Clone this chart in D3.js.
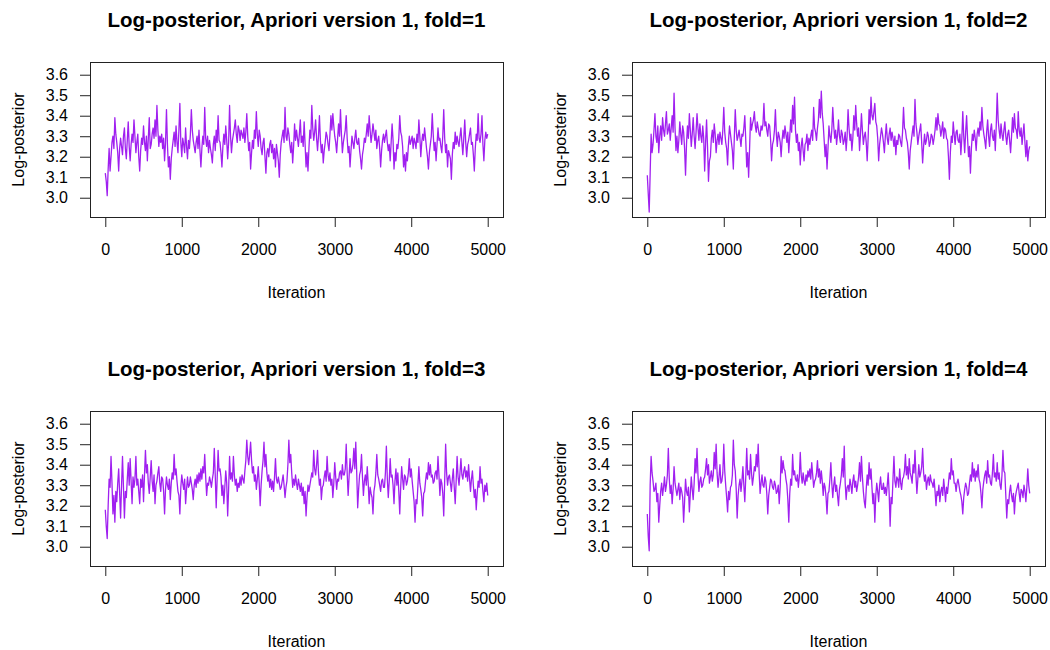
<!DOCTYPE html>
<html>
<head>
<meta charset="utf-8">
<script src="https://cdn.jsdelivr.net/npm/d3@7"></script>
<style>
  body { margin: 0; background: #fff; }
  svg { display: block; font-family: "Liberation Sans", Arial, sans-serif; }
</style>
</head>
<body>
<svg width="1050" height="650"></svg>
<script>
// trace values, one every 12.5 iterations
const iterStep = 12.5;

const fold1 = [
  3.12,3.08, 3.01,3.14, 3.24,3.13, 3.20,3.27, 3.30,3.24, 3.39,3.31, 3.27,3.22, 3.13,3.24, 3.29,3.25, 3.21,3.30,
  3.34,3.24, 3.19,3.28, 3.37,3.25, 3.18,3.26, 3.31,3.27, 3.38,3.30, 3.22,3.27, 3.31,3.20, 3.13,3.23, 3.29,3.26,
  3.35,3.27, 3.23,3.30, 3.18,3.29, 3.39,3.24, 3.26,3.31, 3.34,3.29, 3.38,3.30, 3.45,3.33, 3.25,3.30, 3.27,3.31,
  3.24,3.29, 3.18,3.27, 3.43,3.26, 3.15,3.20, 3.09,3.19, 3.24,3.28, 3.32,3.25, 3.35,3.27, 3.22,3.33, 3.46,3.27,
  3.20,3.29, 3.26,3.22, 3.34,3.25, 3.19,3.28, 3.24,3.31, 3.43,3.33, 3.28,3.25, 3.22,3.27, 3.30,3.24, 3.33,3.23,
  3.15,3.24, 3.30,3.26, 3.44,3.29, 3.25,3.30, 3.22,3.28, 3.24,3.21, 3.17,3.26, 3.30,3.23, 3.33,3.27, 3.40,3.28,
  3.27,3.22, 3.15,3.25, 3.31,3.26, 3.35,3.28, 3.19,3.27, 3.45,3.30, 3.22,3.28, 3.31,3.34, 3.38,3.31, 3.27,3.35,
  3.33,3.28, 3.33,3.31, 3.29,3.34, 3.27,3.32, 3.41,3.30, 3.23,3.27, 3.14,3.22, 3.28,3.24, 3.33,3.29, 3.42,3.31,
  3.25,3.33, 3.30,3.24, 3.21,3.27, 3.29,3.20, 3.12,3.22, 3.24,3.20, 3.26,3.28, 3.22,3.26, 3.19,3.24, 3.15,3.26,
  3.22,3.18, 3.10,3.21, 3.27,3.30, 3.33,3.27, 3.44,3.30, 3.28,3.34, 3.31,3.26, 3.22,3.27, 3.17,3.25, 3.36,3.28,
  3.33,3.29, 3.25,3.31, 3.38,3.27, 3.30,3.25, 3.37,3.26, 3.15,3.22, 3.13,3.24, 3.33,3.29, 3.45,3.34, 3.28,3.32, 3.38,3.29,
  3.23,3.30, 3.40,3.28, 3.22,3.26, 3.17,3.23, 3.27,3.32, 3.30,3.26, 3.23,3.31, 3.40,3.33, 3.41,3.35, 3.30,3.27,
  3.22,3.29, 3.36,3.30, 3.43,3.31, 3.22,3.27, 3.30,3.33, 3.40,3.29, 3.22,3.25, 3.15,3.23, 3.30,3.27, 3.24,3.29,
  3.33,3.27, 3.26,3.29, 3.23,3.19, 3.14,3.21, 3.24,3.29, 3.27,3.31, 3.36,3.30, 3.40,3.33, 3.27,3.31, 3.36,3.32,
  3.28,3.33, 3.24,3.28, 3.30,3.24, 3.15,3.23, 3.28,3.31, 3.27,3.30, 3.33,3.27, 3.23,3.26, 3.18,3.27, 3.36,3.28,
  3.14,3.22, 3.18,3.26, 3.24,3.29, 3.40,3.32, 3.30,3.25, 3.15,3.21, 3.13,3.22, 3.18,3.25, 3.30,3.26, 3.28,3.30,
  3.24,3.29, 3.27,3.24, 3.31,3.27, 3.38,3.30, 3.20,3.27, 3.31,3.28, 3.34,3.29, 3.24,3.20, 3.14,3.22, 3.26,3.30,
  3.41,3.31, 3.23,3.27, 3.18,3.26, 3.34,3.28, 3.29,3.25, 3.22,3.30, 3.43,3.29, 3.22,3.26, 3.15,3.23, 3.21,3.19,
  3.09,3.21, 3.27,3.24, 3.32,3.26, 3.30,3.27, 3.25,3.30, 3.34,3.27, 3.21,3.29, 3.38,3.27, 3.20,3.26, 3.28,3.31,
  3.34,3.26, 3.27,3.21, 3.13,3.24, 3.31,3.28, 3.41,3.29, 3.27,3.31, 3.40,3.26, 3.18,3.28, 3.32,3.29, 3.31
];

const fold2 = [
  3.11,3.02, 2.93,3.12, 3.31,3.22, 3.26,3.33, 3.41,3.30, 3.27,3.35, 3.22,3.30, 3.35,3.28, 3.39,3.33, 3.30,3.36,
  3.42,3.31, 3.33,3.36, 3.28,3.34, 3.40,3.32, 3.51,3.34, 3.23,3.30, 3.22,3.28, 3.37,3.31, 3.26,3.35, 3.32,3.24,
  3.11,3.26, 3.35,3.29, 3.41,3.33, 3.25,3.31, 3.39,3.30, 3.24,3.32, 3.41,3.34, 3.28,3.36, 3.30,3.27, 3.35,3.29,
  3.13,3.27, 3.38,3.25, 3.08,3.18, 3.20,3.29, 3.33,3.27, 3.36,3.31, 3.22,3.28, 3.31,3.26, 3.32,3.29, 3.26,3.33,
  3.44,3.32, 3.27,3.24, 3.16,3.28, 3.35,3.31, 3.27,3.23, 3.14,3.29, 3.43,3.33, 3.28,3.30, 3.33,3.29, 3.25,3.31,
  3.30,3.34, 3.40,3.28, 3.15,3.22, 3.10,3.24, 3.39,3.33, 3.36,3.38, 3.42,3.35, 3.32,3.37, 3.34,3.31, 3.30,3.35,
  3.33,3.36, 3.46,3.35, 3.37,3.33, 3.30,3.36, 3.35,3.28, 3.18,3.26, 3.28,3.33, 3.43,3.31, 3.25,3.32, 3.30,3.27,
  3.20,3.28, 3.33,3.29, 3.35,3.31, 3.27,3.32, 3.22,3.30, 3.38,3.32, 3.45,3.36, 3.49,3.33, 3.27,3.31, 3.23,3.27,
  3.16,3.25, 3.29,3.23, 3.18,3.26, 3.27,3.31, 3.23,3.29, 3.26,3.30, 3.33,3.28, 3.44,3.34, 3.32,3.28, 3.34,3.38,
  3.48,3.39, 3.52,3.41, 3.36,3.28, 3.20,3.26, 3.14,3.24, 3.35,3.30, 3.27,3.33, 3.44,3.35, 3.29,3.33, 3.26,3.31,
  3.38,3.30, 3.27,3.33, 3.31,3.26, 3.28,3.32, 3.23,3.30, 3.43,3.34, 3.28,3.31, 3.23,3.29, 3.40,3.33, 3.45,3.36, 3.30,3.34,
  3.23,3.31, 3.41,3.33, 3.26,3.30, 3.32,3.27, 3.18,3.29, 3.43,3.36, 3.49,3.40, 3.38,3.42, 3.46,3.37, 3.35,3.29,
  3.18,3.26, 3.30,3.34, 3.31,3.27, 3.22,3.30, 3.36,3.29, 3.26,3.31, 3.34,3.28, 3.32,3.29, 3.25,3.30, 3.21,3.28,
  3.26,3.31, 3.30,3.27, 3.25,3.32, 3.44,3.34, 3.33,3.29, 3.27,3.22, 3.14,3.23, 3.27,3.31, 3.35,3.30, 3.48,3.36,
  3.32,3.26, 3.30,3.33, 3.36,3.27, 3.17,3.25, 3.31,3.26, 3.28,3.32, 3.30,3.25, 3.27,3.31, 3.30,3.26, 3.29,3.33,
  3.39,3.33, 3.41,3.36, 3.35,3.30, 3.33,3.37, 3.29,3.34, 3.33,3.29, 3.28,3.20, 3.09,3.22, 3.30,3.27, 3.37,3.31,
  3.26,3.32, 3.33,3.28, 3.27,3.31, 3.21,3.29, 3.42,3.30, 3.22,3.32, 3.40,3.29, 3.20,3.25, 3.12,3.24, 3.31,3.28,
  3.33,3.29, 3.23,3.31, 3.34,3.30, 3.37,3.33, 3.44,3.35, 3.31,3.28, 3.24,3.32, 3.38,3.30, 3.25,3.33, 3.36,3.30,
  3.28,3.33, 3.23,3.35, 3.51,3.38, 3.33,3.29, 3.36,3.31, 3.28,3.33, 3.37,3.30, 3.26,3.31, 3.33,3.28, 3.22,3.30,
  3.39,3.32, 3.41,3.34, 3.33,3.29, 3.42,3.33, 3.30,3.34, 3.26,3.31, 3.36,3.27, 3.20,3.28, 3.18,3.23, 3.25
];

const fold3 = [
  3.18,3.10, 3.04,3.20, 3.33,3.29, 3.44,3.31, 3.16,3.25, 3.12,3.27, 3.22,3.31, 3.38,3.26, 3.14,3.30, 3.44,3.29,
  3.14,3.27, 3.24,3.33, 3.41,3.30, 3.43,3.32, 3.21,3.34, 3.29,3.33, 3.44,3.30, 3.33,3.27, 3.21,3.33, 3.29,3.35,
  3.22,3.35, 3.47,3.36, 3.40,3.31, 3.26,3.34, 3.42,3.32, 3.27,3.35, 3.21,3.30, 3.32,3.36, 3.39,3.31, 3.27,3.34,
  3.33,3.27, 3.16,3.28, 3.34,3.30, 3.28,3.33, 3.23,3.31, 3.36,3.33, 3.45,3.35, 3.38,3.32, 3.27,3.25, 3.16,3.29,
  3.35,3.31, 3.28,3.33, 3.21,3.28, 3.34,3.29, 3.30,3.34, 3.31,3.28, 3.23,3.30, 3.33,3.29, 3.35,3.31, 3.36,3.32,
  3.38,3.33, 3.39,3.36, 3.45,3.34, 3.25,3.31, 3.30,3.34, 3.32,3.29, 3.33,3.36, 3.48,3.35, 3.19,3.33, 3.47,3.37,
  3.38,3.34, 3.25,3.30, 3.21,3.29, 3.37,3.31, 3.15,3.28, 3.44,3.33, 3.36,3.32, 3.44,3.35, 3.30,3.33, 3.27,3.31,
  3.29,3.34, 3.30,3.35, 3.33,3.31, 3.37,3.42, 3.52,3.44, 3.40,3.45, 3.51,3.42, 3.36,3.39, 3.32,3.35, 3.28,3.33,
  3.39,3.31, 3.20,3.30, 3.37,3.42, 3.51,3.39, 3.45,3.36, 3.32,3.35, 3.29,3.33, 3.28,3.32, 3.27,3.34, 3.43,3.33,
  3.31,3.34, 3.31,3.28, 3.29,3.32, 3.35,3.30, 3.24,3.29, 3.32,3.40, 3.52,3.41, 3.45,3.36, 3.29,3.33, 3.30,3.35,
  3.31,3.28, 3.33,3.30, 3.27,3.31, 3.25,3.29, 3.21,3.27, 3.15,3.24, 3.30,3.27, 3.30,3.33, 3.36,3.34, 3.47,3.38, 3.35,3.40,
  3.47,3.36, 3.30,3.33, 3.23,3.29, 3.30,3.34, 3.37,3.32, 3.44,3.35, 3.32,3.36, 3.30,3.33, 3.24,3.31, 3.41,3.34,
  3.28,3.33, 3.32,3.36, 3.37,3.33, 3.40,3.35, 3.35,3.38, 3.50,3.36, 3.25,3.34, 3.43,3.36, 3.37,3.40, 3.48,3.38,
  3.51,3.36, 3.19,3.28, 3.35,3.37, 3.45,3.34, 3.25,3.32, 3.35,3.30, 3.39,3.31, 3.21,3.29, 3.26,3.24, 3.16,3.27,
  3.30,3.36, 3.45,3.35, 3.33,3.30, 3.27,3.32, 3.33,3.29, 3.29,3.36, 3.49,3.33, 3.24,3.32, 3.43,3.34, 3.35,3.30,
  3.21,3.32, 3.38,3.30, 3.36,3.27, 3.16,3.29, 3.39,3.33, 3.28,3.35, 3.34,3.30, 3.32,3.36, 3.43,3.34, 3.38,3.32,
  3.27,3.22, 3.12,3.23, 3.21,3.30, 3.39,3.31, 3.28,3.24, 3.15,3.26, 3.27,3.32, 3.36,3.33, 3.41,3.35, 3.40,3.34,
  3.35,3.31, 3.32,3.36, 3.37,3.33, 3.44,3.35, 3.25,3.33, 3.31,3.26, 3.15,3.32, 3.50,3.36, 3.30,3.34, 3.35,3.31,
  3.27,3.33, 3.38,3.29, 3.21,3.32, 3.44,3.34, 3.30,3.36, 3.43,3.35, 3.33,3.37, 3.39,3.34, 3.37,3.32, 3.40,3.33,
  3.27,3.33, 3.37,3.30, 3.24,3.28, 3.18,3.26, 3.32,3.29, 3.39,3.31, 3.33,3.27, 3.22,3.30, 3.27,3.31, 3.25
];

const fold4 = [
  3.16,3.05, 2.98,3.30, 3.44,3.36, 3.32,3.27, 3.28,3.31, 3.22,3.26, 3.12,3.20, 3.27,3.31, 3.25,3.29, 3.34,3.27,
  3.30,3.35, 3.48,3.33, 3.26,3.30, 3.21,3.28, 3.39,3.31, 3.28,3.25, 3.28,3.31, 3.23,3.29, 3.27,3.24, 3.12,3.22,
  3.33,3.27, 3.25,3.29, 3.17,3.26, 3.34,3.28, 3.23,3.31, 3.43,3.36, 3.48,3.35, 3.27,3.32, 3.34,3.29, 3.30,3.33,
  3.34,3.38, 3.43,3.35, 3.40,3.31, 3.34,3.37, 3.32,3.35, 3.46,3.38, 3.50,3.36, 3.29,3.34, 3.40,3.31, 3.32,3.36,
  3.50,3.37, 3.30,3.24, 3.17,3.27, 3.23,3.29, 3.30,3.35, 3.52,3.40, 3.37,3.28, 3.14,3.25, 3.30,3.33, 3.27,3.32,
  3.39,3.30, 3.22,3.34, 3.48,3.35, 3.37,3.33, 3.45,3.36, 3.30,3.34, 3.39,3.37, 3.45,3.39, 3.50,3.36, 3.26,3.31,
  3.35,3.30, 3.29,3.34, 3.32,3.26, 3.16,3.25, 3.29,3.33, 3.32,3.29, 3.28,3.32, 3.30,3.26, 3.27,3.30, 3.21,3.29,
  3.44,3.36, 3.42,3.38, 3.37,3.33, 3.30,3.23, 3.12,3.26, 3.33,3.30, 3.45,3.35, 3.37,3.33, 3.32,3.35, 3.29,3.34,
  3.46,3.35, 3.31,3.36, 3.32,3.30, 3.35,3.32, 3.37,3.34, 3.38,3.33, 3.41,3.35, 3.29,3.32, 3.33,3.36, 3.42,3.34,
  3.38,3.31, 3.37,3.32, 3.25,3.31, 3.29,3.24, 3.16,3.26, 3.27,3.33, 3.41,3.31, 3.24,3.30, 3.34,3.27, 3.30,3.25,
  3.20,3.28, 3.31,3.35, 3.43,3.34, 3.49,3.31, 3.23,3.29, 3.30,3.27, 3.33,3.30, 3.26,3.32, 3.35,3.29, 3.32,3.27, 3.30,3.34,
  3.41,3.32, 3.44,3.34, 3.27,3.22, 3.19,3.28, 3.35,3.30, 3.41,3.33, 3.38,3.29, 3.21,3.26, 3.12,3.25, 3.31,3.27,
  3.22,3.30, 3.34,3.28, 3.28,3.31, 3.26,3.29, 3.25,3.30, 3.36,3.26, 3.10,3.24, 3.21,3.33, 3.44,3.32, 3.29,3.34,
  3.33,3.29, 3.38,3.31, 3.28,3.33, 3.34,3.37, 3.45,3.35, 3.39,3.33, 3.43,3.36, 3.34,3.31, 3.40,3.36, 3.47,3.35,
  3.26,3.33, 3.40,3.34, 3.36,3.39, 3.48,3.36, 3.32,3.35, 3.28,3.32, 3.34,3.30, 3.35,3.32, 3.31,3.29, 3.33,3.27,
  3.20,3.27, 3.25,3.30, 3.22,3.27, 3.29,3.25, 3.33,3.28, 3.22,3.29, 3.26,3.31, 3.36,3.33, 3.43,3.35, 3.37,3.31,
  3.31,3.27, 3.31,3.33, 3.30,3.27, 3.25,3.22, 3.16,3.24, 3.28,3.31, 3.29,3.25, 3.26,3.31, 3.35,3.32, 3.41,3.34,
  3.38,3.32, 3.37,3.34, 3.40,3.33, 3.31,3.26, 3.19,3.28, 3.32,3.35, 3.37,3.31, 3.42,3.34, 3.35,3.31, 3.30,3.36,
  3.45,3.34, 3.36,3.32, 3.41,3.33, 3.36,3.30, 3.28,3.35, 3.47,3.37, 3.36,3.25, 3.14,3.23, 3.21,3.27, 3.30,3.25,
  3.22,3.26, 3.16,3.24, 3.27,3.29, 3.31,3.26, 3.22,3.28, 3.27,3.24, 3.30,3.27, 3.22,3.29, 3.38,3.30, 3.26
];

const foldNames = ["1", "2", "3", "4"];
const xTicks = [0, 1000, 2000, 3000, 4000, 5000];
const yTicks = [3.0, 3.1, 3.2, 3.3, 3.4, 3.5, 3.6];

var svg = d3.select("svg");

var boxLeft = 90, boxTop = 62, boxW = 413, boxH = 155;
var offsets = [[0, 0], [542, 0], [0, 349], [542, 349]];
var series = [fold1, fold2, fold3, fold4];

var x = d3.scaleLinear()
  .domain([-200, 5200])
  .range([boxLeft, boxLeft + boxW]);

var y = d3.scaleLinear()
  .domain([2.906, 3.662])
  .range([boxTop + boxH, boxTop]);

var line = d3.line()
  .x((d, i) => x(i * iterStep))
  .y((d) => y(d));

series.forEach((values, k) => {
  var g = svg.append("g")
    .attr("transform", "translate(" + offsets[k][0] + "," + offsets[k][1] + ")");

  g.append("path")
    .datum(values)
    .attr("fill", "none")
    .attr("stroke", "#A020F0")
    .attr("stroke-width", 1.3)
    .attr("stroke-linejoin", "round")
    .attr("d", line);

  g.append("rect")
    .attr("x", boxLeft + 0.5)
    .attr("y", boxTop + 0.5)
    .attr("width", boxW)
    .attr("height", boxH)
    .attr("fill", "none")
    .attr("stroke", "#222");

  var xAxis = g.append("g")
    .attr("transform", "translate(0," + (boxTop + boxH) + ")")
    .call(d3.axisBottom(x).tickValues(xTicks).tickFormat(d3.format("d"))
      .tickSize(10).tickPadding(17));

  var yAxis = g.append("g")
    .attr("transform", "translate(" + boxLeft + ",0)")
    .call(d3.axisLeft(y).tickValues(yTicks).tickFormat(d3.format(".1f"))
      .tickSize(10).tickPadding(12));

  [xAxis, yAxis].forEach(a => {
    a.select(".domain").remove();
    a.selectAll("line").attr("stroke", "#222");
    a.selectAll("text")
      .attr("fill", "#000")
      .style("font-size", "16px")
      .style("font-family", "'Liberation Sans', Arial, sans-serif");
  });

  g.append("text")
    .attr("x", boxLeft + boxW / 2)
    .attr("y", 27)
    .attr("text-anchor", "middle")
    .style("font-size", "20.5px")
    .style("font-weight", "bold")
    .text("Log-posterior, Apriori version 1, fold=" + foldNames[k]);

  g.append("text")
    .attr("x", boxLeft + boxW / 2)
    .attr("y", 297.5)
    .attr("text-anchor", "middle")
    .style("font-size", "16px")
    .text("Iteration");

  g.append("text")
    .attr("transform", "translate(24," + (boxTop + boxH / 2) + ") rotate(-90)")
    .attr("text-anchor", "middle")
    .style("font-size", "16px")
    .text("Log-posterior");
});
</script>
</body>
</html>
